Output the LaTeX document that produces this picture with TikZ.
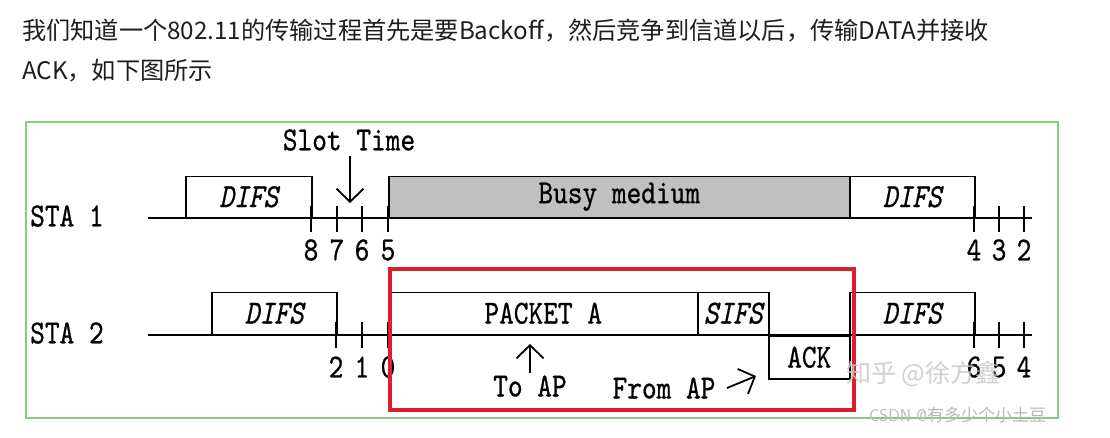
\documentclass[tikz,border=0pt]{standalone}
\usepackage{fontspec}
\newfontfamily\cjk{Noto Sans CJK SC}
\newfontfamily\dmono{lmmono10-regular.otf}[FakeBold=0.8, ItalicFont=lmmono10-italic.otf, ItalicFeatures={FakeBold=0.8}]
\usetikzlibrary{arrows.meta}
\definecolor{busy}{RGB}{192,192,192}
\definecolor{frameg}{RGB}{130,205,130}
\definecolor{redbox}{RGB}{218,32,40}
\definecolor{wm}{RGB}{200,200,200}
\definecolor{wm2}{RGB}{185,185,185}
\definecolor{headc}{RGB}{30,30,30}
\newcommand\dg[1]{\scalebox{1}[1.2]{#1}}
\begin{document}
\begin{tikzpicture}[x=1pt,y=-1pt,
  bx/.style={draw=black, line width=1.5pt, inner sep=0pt},
  dt/.style={font=\fontsize{28}{28}\selectfont\dmono, inner sep=0pt},
  dti/.style={font=\fontsize{28}{28}\selectfont\dmono\itshape, inner sep=0pt},
  ax/.style={line width=1.5pt},
  arr/.style={line width=1.8pt, -{Straight Barb[length=13pt,width=27pt,line width=1.8pt]}},
  head/.style={font=\cjk\fontsize{24.2}{24.2}\selectfont, text=headc, inner sep=0pt, anchor=base west}]
\useasboundingbox (0,0) rectangle (1110,437);
\fill[white] (0,0) rectangle (1110,437);

% heading text
\node[head] (h1) at (22,39) {我们知道一个802.11的传输过程首先是要Backoff，然后竞争到信道以后，传输DATA并接收};
\node[head] (h2) at (22,79) {ACK，如下图所示};

% frame
\node[draw=frameg, line width=1.5pt, minimum width=1032pt, minimum height=296pt, anchor=north west, inner sep=0pt] (frame) at (25,121) {};

% ---------- STA 1 ----------
\node[dt, anchor=west] (sta1) at (30,216) {\dg{STA 1}};
\coordinate (a1s) at (148,218);
\coordinate (a1e) at (1032,218);
\draw[ax] (a1s) -- (a1e);
\node[bx, fill=white, minimum width=126pt, minimum height=41pt, anchor=south west] (difs1a) at (185,218) {};
\node[dti] at (difs1a.center) {\dg{DIFS}};
\node[bx, fill=busy, minimum width=461pt, minimum height=41pt, anchor=south west] (busy) at (388,218) {};
\node[dt] at (busy.center) {\dg{Busy medium}};
\node[bx, fill=white, minimum width=125pt, minimum height=41pt, anchor=south west] (difs1b) at (849,218) {};
\node[dti] at (difs1b.center) {\dg{DIFS}};
\foreach \x/\n in {311/8,337/7,362/6,388/5,974/4,999/3,1024/2}{
  \draw[ax] (\x,206) -- (\x,232);
  \node[dt] (ta\n) at (\x,250) {\dg{\n}};
}
\node[dt] (slot) at (349,140) {\dg{Slot Time}};
\coordinate (slotTip) at (350,203);
\draw[arr] (350,156) -- (slotTip);

% ---------- STA 2 ----------
\node[dt, anchor=west] (sta2) at (30,333) {\dg{STA 2}};
\coordinate (a2s) at (148,335);
\coordinate (a2e) at (1032,335);
\draw[ax] (a2s) -- (a2e);
\node[bx, fill=white, minimum width=125pt, minimum height=42pt, anchor=south west] (difs2a) at (211,335) {};
\node[dti] at (difs2a.center) {\dg{DIFS}};
\node[bx, fill=white, minimum width=309pt, minimum height=42pt, anchor=south west] (pkt) at (388,335) {};
\node[dt] at (pkt.center) {\dg{PACKET A}};
\node[bx, fill=white, minimum width=71pt, minimum height=42pt, anchor=south west] (sifs) at (697,335) {};
\node[dti] at (sifs.center) {\dg{SIFS}};
\node[bx, fill=white, minimum width=81pt, minimum height=43pt, anchor=north west] (ack) at (768,335) {};
\node[dt] at (ack.center) {\dg{ACK}};
\node[bx, fill=white, minimum width=125pt, minimum height=42pt, anchor=south west] (difs2b) at (849,335) {};
\node[dti] at (difs2b.center) {\dg{DIFS}};
\foreach \x/\n/\m in {336/2/a,362/1/b,388/0/c,974/6/d,999/5/e,1024/4/f}{
  \draw[ax] (\x,322) -- (\x,348);
  \node[dt] (tb\m) at (\x,367) {\dg{\n}};
}
\node[dt] (toap) at (530,386) {\dg{To AP}};
\coordinate (toapTip) at (530,344);
\draw[arr] (530,373) -- (toapTip);
\node[dt] (fromap) at (664,388) {\dg{From AP}};
\coordinate (fromTip) at (756,376);
\draw[arr] (727,388) -- (fromTip);

% red highlight
\node[draw=redbox, line width=4pt, minimum width=464pt, minimum height=141pt, anchor=north west, inner sep=0pt] (focus) at (388,267) {};

% watermarks
\node[font=\cjk\fontsize{25}{25}\selectfont, text=wm, opacity=0.85, anchor=west, inner sep=0pt] (wm1) at (846,374) {知乎 @徐方鑫};
\node[font=\fontsize{17}{17}\selectfont\sffamily, text=wm2, anchor=west, inner sep=0pt] (wm2) at (869,415) {CSDN @{\cjk 有多少个小土豆}};
\end{tikzpicture}
\end{document}
